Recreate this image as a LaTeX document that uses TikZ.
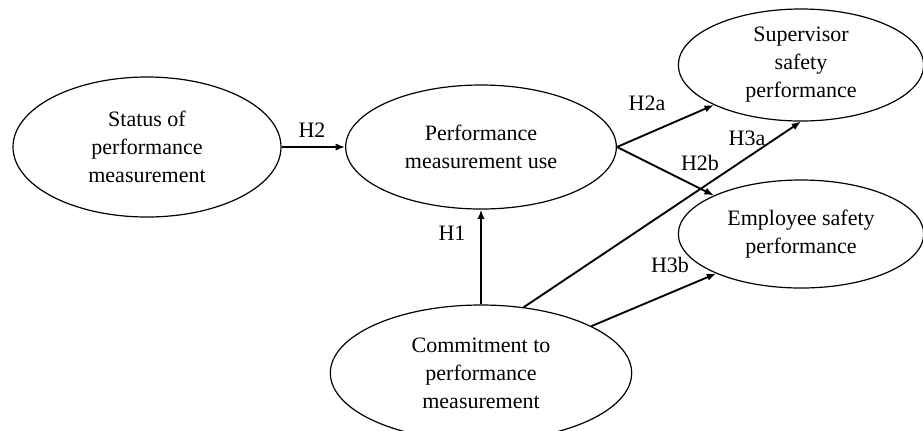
\documentclass[tikz,border=0pt]{standalone}
\usepackage{fontspec}
\setmainfont{Liberation Serif}
\usetikzlibrary{shapes.geometric,arrows.meta}

\tikzset{
  construct/.style={draw, ellipse, line width=0.9pt, inner sep=0pt,
    align=center, font=\fontsize{16.5}{21}\selectfont},
  path/.style={line width=1.4pt, -{Latex[length=7pt,width=5.5pt]}},
  hyp/.style={font=\fontsize{16.5}{20}\selectfont, inner sep=0pt}
}

\begin{document}
\begin{tikzpicture}[x=0.75pt, y=-0.75pt]
    \useasboundingbox (0,0) rectangle (923,430);
    \clip (0,0) rectangle (923,430);
    \node[construct, minimum width=201pt, minimum height=105pt] (status) at (147,147)
    {Status of\\performance\\measurement}; \node[construct, minimum width=203pt,
    minimum height=93pt] (use) at (481,147)
    {Performance\\measurement use}; \node[construct, minimum width=184pt,
    minimum height=84pt] (super) at (801,65)
    {Supervisor\\safety\\performance}; \node[construct, minimum width=184pt,
    minimum height=81pt] (emp) at (801,234)
    {Employee safety\\performance}; \node[construct, minimum width=226pt,
    minimum height=102pt] (commit) at (481,373)
    {Commitment to\\performance\\measurement};
    \draw[path] (status.east) -- (use.west); \draw[path] (use.east) -- (super.south west);
    \draw[path] (use.east) -- (emp.north west); \draw[path] (commit.north) -- (use.south);
    \draw[path] (commit.57) -- (super.south); \draw[path] (commit.23) -- (emp.205);
    \node[hyp] (h2) at (312,130) {H2}; \node[hyp] (h2a) at (647,103) {H2a};
    \node[hyp] (h2b) at (700,163) {H2b}; \node[hyp] (h3a) at (747,138) {H3a};
    \node[hyp] (h1) at (452,233) {H1}; \node[hyp] (h3b) at (670,265) {H3b};
  \end{tikzpicture}
\end{document}
